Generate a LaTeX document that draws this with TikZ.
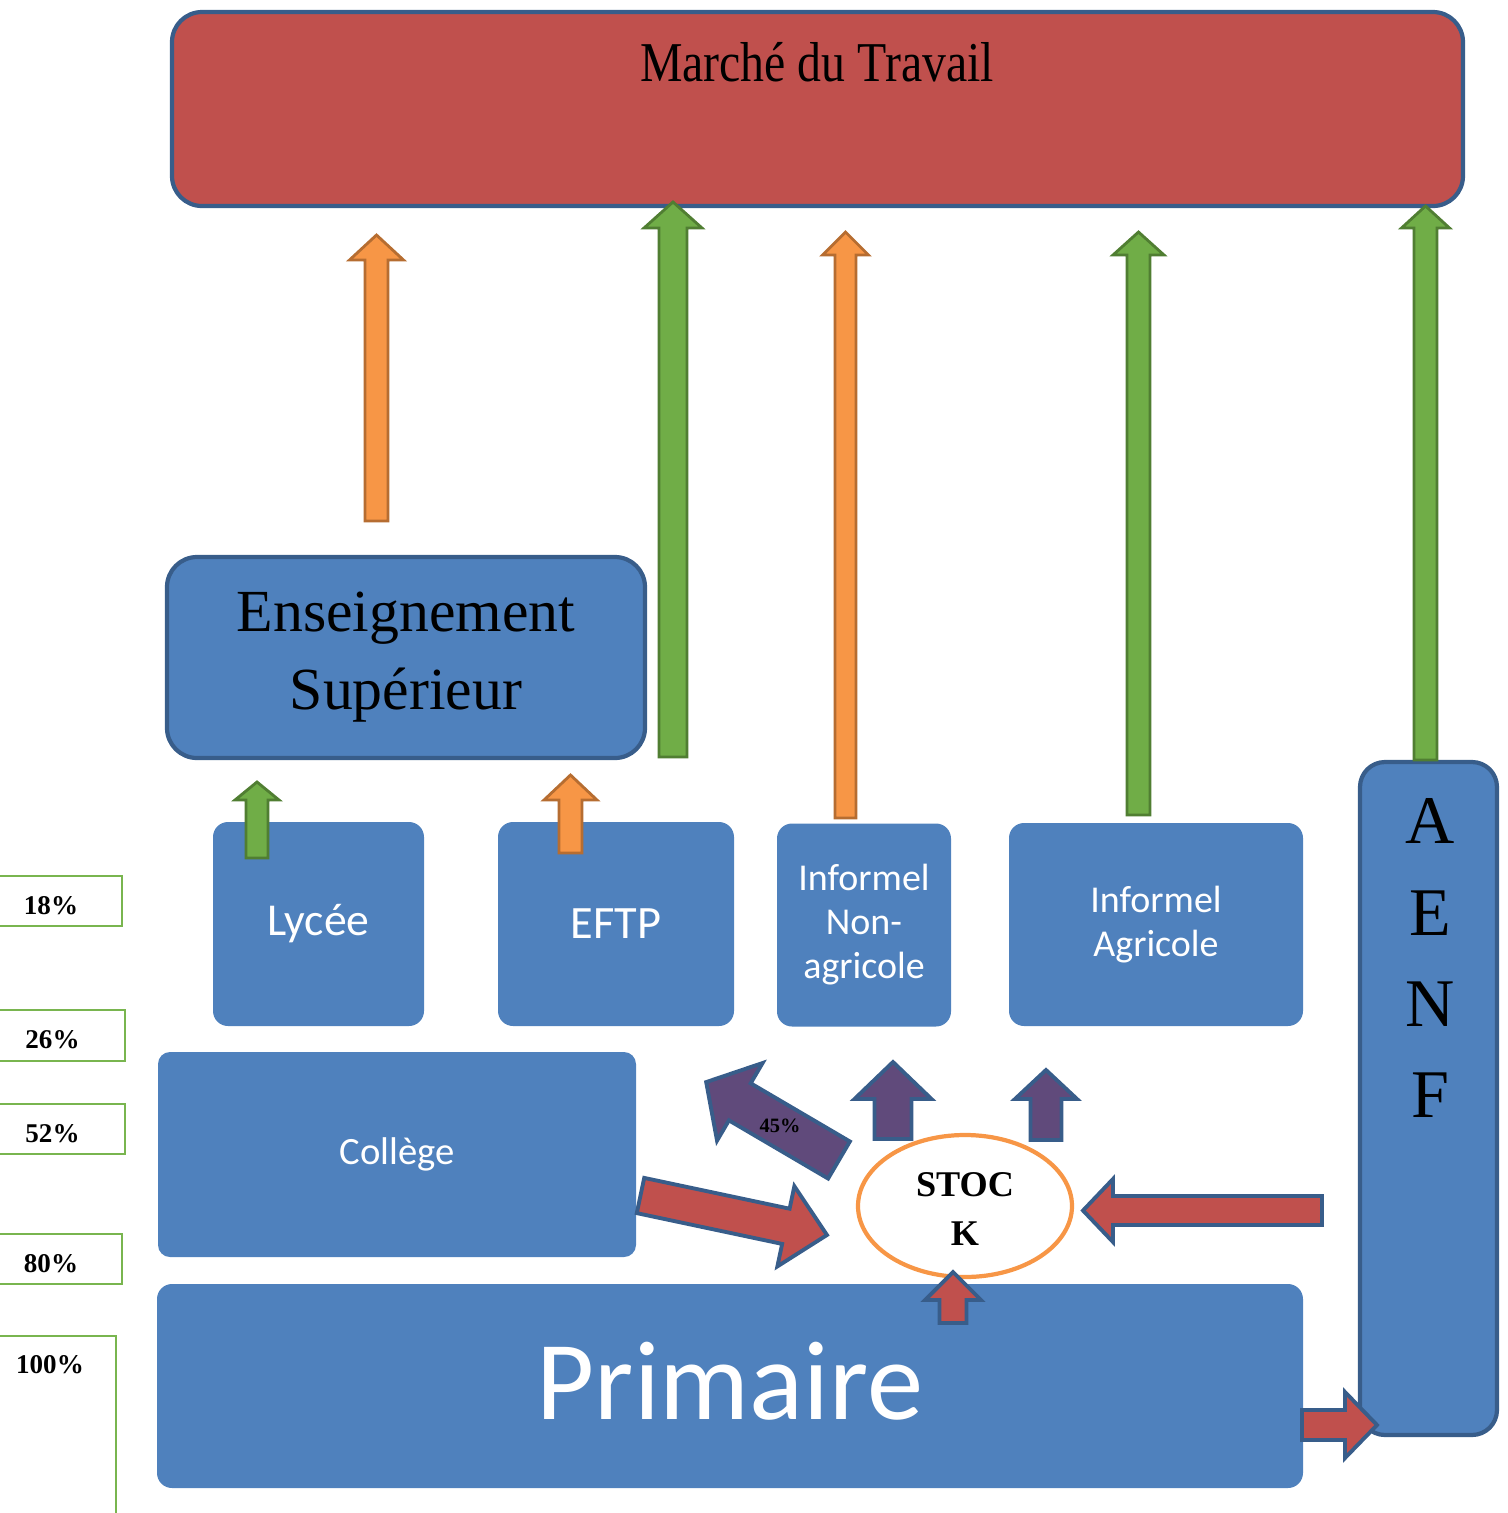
\documentclass[tikz,border=0pt]{standalone}
\usepackage{fontspec}
\setmainfont{Liberation Serif}
\newfontfamily\calibri{Carlito}
\usetikzlibrary{shapes.geometric}

\definecolor{marketred}{HTML}{C0504D}
\definecolor{boxblue}{HTML}{4F81BD}
\definecolor{borderblue}{HTML}{385D8A}
\definecolor{arrorange}{HTML}{F79646}
\definecolor{arrorangeline}{HTML}{B66D31}
\definecolor{arrgreen}{HTML}{70AD47}
\definecolor{arrgreenline}{HTML}{507E32}
\definecolor{arrpurple}{HTML}{604A7B}
\definecolor{pctgreen}{HTML}{79B54F}

% block arrow: style, x, y (tail centre), angle, length, shaft half, head half, head length
\newcommand{\blockarr}[8]{%
  \draw[#1, shift={(#2,#3)}, rotate=#4] (0,-#6) -- (#5-#8,-#6) -- (#5-#8,-#7) -- (#5,0)
    -- (#5-#8,#7) -- (#5-#8,#6) -- (0,#6) -- cycle;}

\tikzset{
  box/.style={rectangle, rounded corners=1.5mm, fill=boxblue, text=white, font=\calibri,
    inner sep=0pt, align=center},
  bigbox/.style={box, draw=borderblue, line width=1.2pt, rounded corners=3mm, text=black},
  pctbox/.style={draw=pctgreen, line width=0.7pt, fill=white, inner sep=0pt,
    text height=7.5pt, text depth=0pt, font=\fontsize{7.7}{9}\selectfont\bfseries},
  greenarr/.style={fill=arrgreen, draw=arrgreenline, line width=0.8pt},
  orangearr/.style={fill=arrorange, draw=arrorangeline, line width=0.8pt},
  purplearr/.style={fill=arrpurple, draw=borderblue, line width=1.1pt, line join=miter},
  redarr/.style={fill=marketred, draw=borderblue, line width=1.1pt, line join=miter}
}

\begin{document}
\begin{tikzpicture}[x=0.1mm, y=-0.1mm]
\useasboundingbox (0,0) rectangle (1507,1513);

% Marché du Travail
\node[bigbox, fill=marketred, minimum width=129.1mm, minimum height=19.4mm] (marche) at (817.5,109) {};
\node[font=\fontsize{16}{19}\selectfont] (marchetext) at (817,62) {\scalebox{0.85}[1]{Marché du Travail}};

% Enseignement Supérieur
\node[bigbox, minimum width=47.8mm, minimum height=20.1mm, font=\fontsize{17}{22.2}\selectfont]
  (sup) at (406,657.5) {Enseignement\\Supérieur};

% second row
\node[box, minimum width=21.1mm, minimum height=20.4mm, font=\calibri\fontsize{13}{15}\selectfont]
  (lycee) at (318.5,924) {Lycée};
\node[box, minimum width=23.6mm, minimum height=20.4mm, font=\calibri\fontsize{13.2}{15}\selectfont]
  (eftp) at (616,924) {EFTP};
\node[box, minimum width=17.4mm, minimum height=20.3mm, font=\calibri\fontsize{10.8}{12.5}\selectfont]
  (nonagri) at (864,925) {Informel\\Non-\\agricole};
\node[box, minimum width=29.4mm, minimum height=20.3mm, font=\calibri\fontsize{10.8}{12.5}\selectfont]
  (agri) at (1156,924.5) {Informel\\Agricole};

% Collège, Primaire
\node[box, rounded corners=1.2mm, minimum width=47.8mm, minimum height=20.5mm,
  font=\calibri\fontsize{11}{13}\selectfont] (college) at (397,1154.5) {Collège};
\node[box, minimum width=114.6mm, minimum height=20.4mm, font=\calibri\fontsize{32}{36}\selectfont]
  (primaire) at (730,1386) {\raisebox{1mm}{Primaire}};

% AENF
\node[bigbox, fill=boxblue, rounded corners=2.5mm, minimum width=13.7mm, minimum height=67.3mm]
  (aenf) at (1428.5,1098.5) {};
\node[align=center, font=\fontsize{19.4}{25.9}\selectfont] (aenftext) at (1430,958) {A\\E\\N\\F};

% STOCK
\node[ellipse, draw=arrorange, line width=1.2pt, fill=white, minimum width=21.4mm,
  minimum height=14.2mm, inner sep=0pt] (stock) at (965,1206) {};
\node[align=center, font=\fontsize{10.3}{13.7}\selectfont\bfseries] (stocktext) at (965,1209) {STOC\\K};

% percentages
\node[pctbox, minimum width=14.2mm, minimum height=5mm] (p18) at (51,901) {18\%};
\node[pctbox, minimum width=14.5mm, minimum height=5.1mm] (p26) at (52.5,1035.5) {26\%};
\node[pctbox, minimum width=14.5mm, minimum height=5mm] (p52) at (52.5,1129) {52\%};
\node[pctbox, minimum width=14.2mm, minimum height=5mm] (p80) at (51,1259) {80\%};
\node[pctbox, minimum width=13.6mm, minimum height=20.4mm] (p100) at (48,1438) {};
\node[font=\fontsize{7.7}{9}\selectfont\bfseries] (p100text) at (50,1365) {100\%};

% arrows to the market
\blockarr{orangearr}{376.5}{521}{90}{286}{11.5}{27}{25}
\blockarr{greenarr}{673}{757}{90}{555}{14}{29}{26}
\blockarr{orangearr}{845.5}{818}{90}{586}{10.5}{23}{23}
\blockarr{greenarr}{1138.5}{815}{90}{583}{11.5}{25.5}{23}
\blockarr{greenarr}{1425.5}{760}{90}{554}{11.5}{24}{22}

% small arrows
\blockarr{greenarr}{257}{858}{90}{76}{11}{22}{18}
\blockarr{orangearr}{570.5}{853}{90}{78}{11.5}{26.5}{25}

% out of the stock
\blockarr{purplearr}{839}{1160}{149.6}{154}{21.5}{45}{39}
\node[font=\fontsize{5.8}{7}\selectfont\bfseries] (p45) at (780,1126) {45\%};
\blockarr{purplearr}{893}{1139}{90}{77}{18.5}{38.5}{37}
\blockarr{purplearr}{1046}{1140}{90}{70}{15.5}{31}{29}

% into the stock
\blockarr{redarr}{640.5}{1195.5}{-11.96}{190.6}{18}{41}{42}
\blockarr{redarr}{1322}{1210.5}{180}{239}{14.5}{31.5}{30}
\blockarr{redarr}{953}{1323}{90}{51}{13.5}{28}{28}

% Primaire to AENF
\blockarr{redarr}{1302}{1425}{0}{75}{15}{33}{32}

\end{tikzpicture}
\end{document}
